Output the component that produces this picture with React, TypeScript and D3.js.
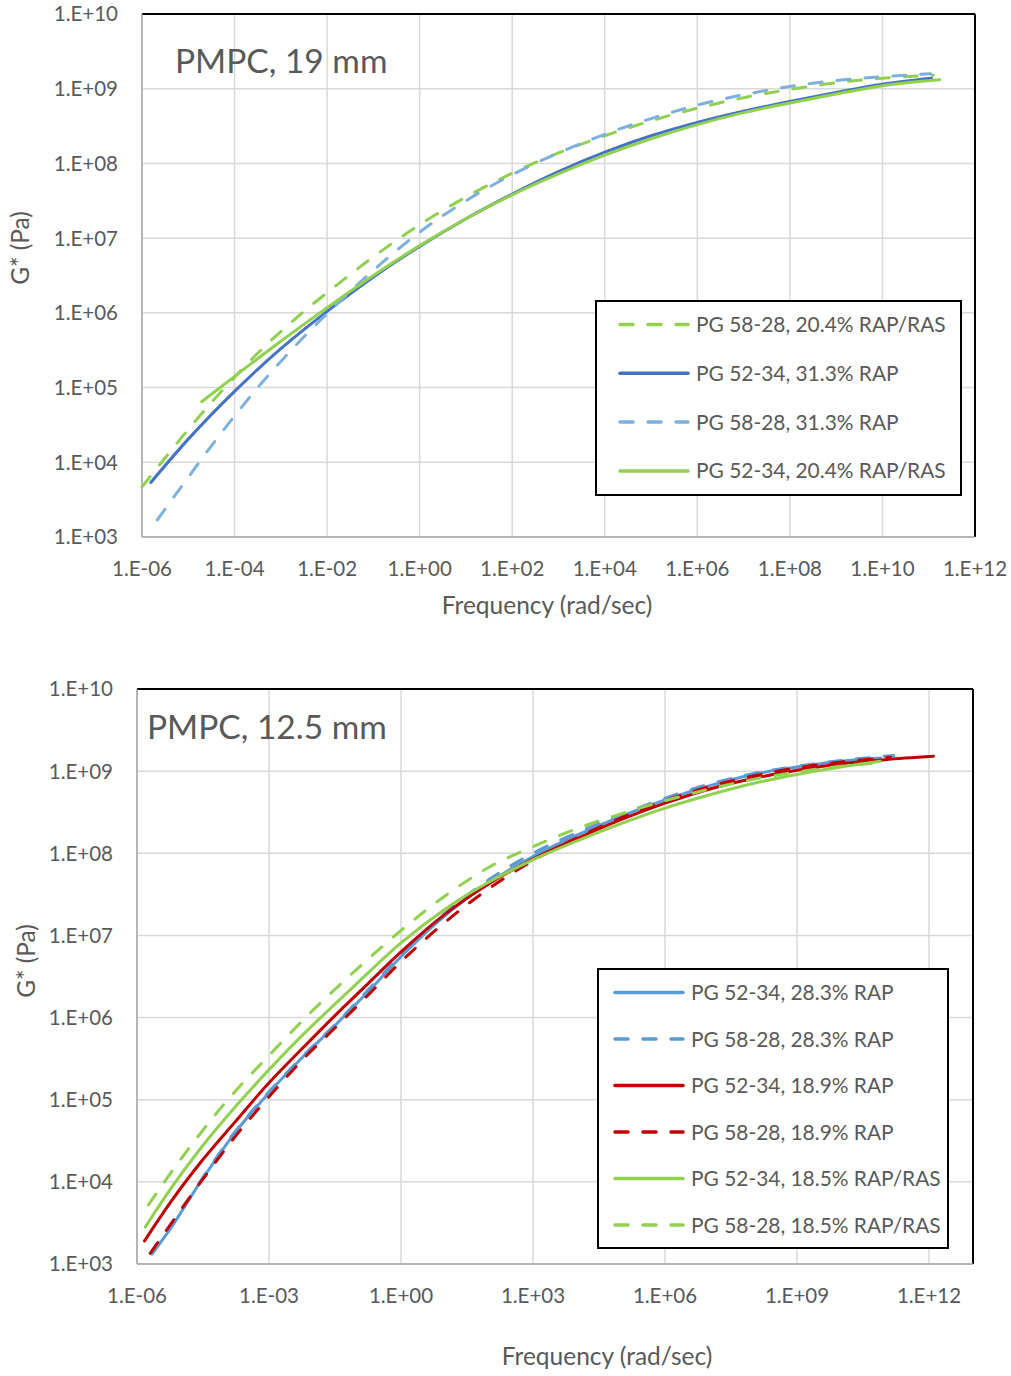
import React from 'react';
import * as d3 from 'd3';

type P = [number, number]; // [log10 frequency (rad/s), log10 G* (Pa)]

// ---------- Panel 1: PMPC, 19 mm ----------
const p1_5828_204: P[] = [
  [-6.0, 3.67], [-5.5, 4.06], [-5.0, 4.44], [-4.5, 4.8], [-4.0, 5.14], [-3.5, 5.46], [-3.0, 5.75],
  [-2.5, 6.02], [-2.0, 6.27], [-1.0, 6.75], [0.0, 7.18], [1.0, 7.55], [2.0, 7.87], [3.0, 8.14],
  [4.0, 8.37], [5.0, 8.57], [6.0, 8.74], [7.0, 8.88], [8.0, 8.99], [9.0, 9.08], [10.0, 9.14], [11.1, 9.18],
];
const p1_5234_313: P[] = [
  [-5.81, 3.73], [-5.0, 4.31], [-4.0, 4.95], [-3.0, 5.52], [-2.0, 6.02], [-1.0, 6.48], [0.0, 6.89],
  [1.0, 7.26], [2.0, 7.59], [3.0, 7.89], [4.0, 8.15], [5.0, 8.37], [6.0, 8.55], [7.0, 8.7],
  [8.0, 8.83], [9.0, 8.95], [10.0, 9.06], [11.06, 9.14],
];
const p1_5828_313: P[] = [
  [-5.67, 3.23], [-5.0, 3.8], [-4.5, 4.22], [-4.0, 4.62], [-3.5, 5.0], [-3.0, 5.35], [-2.5, 5.68],
  [-2.0, 5.99], [-1.0, 6.57], [0.0, 7.08], [1.0, 7.5], [2.0, 7.85], [3.0, 8.14], [4.0, 8.39],
  [5.0, 8.6], [6.0, 8.78], [7.0, 8.92], [8.0, 9.03], [9.0, 9.11], [10.0, 9.16], [11.04, 9.2],
];
const p1_5234_204: P[] = [
  [-4.71, 4.81], [-4.0, 5.15], [-3.0, 5.62], [-2.0, 6.07], [-1.0, 6.5], [0.0, 6.9], [1.0, 7.26],
  [2.0, 7.58], [3.0, 7.86], [4.0, 8.11], [5.0, 8.33], [6.0, 8.52], [7.0, 8.68], [8.0, 8.81],
  [9.0, 8.93], [10.0, 9.04], [11.24, 9.12],
];

// ---------- Panel 2: PMPC, 12.5 mm ----------
const p2_5234_283: P[] = [
  [-5.66, 3.12], [-5.28, 3.4], [-4.52, 4.03], [-3.77, 4.6], [-3.01, 5.08], [-2.25, 5.51],
  [-1.49, 5.91], [-0.74, 6.32], [0.0, 6.74], [1.0, 7.24], [2.0, 7.64], [3.0, 7.96], [4.0, 8.22],
  [5.0, 8.45], [6.0, 8.65], [7.0, 8.82], [8.0, 8.96], [9.0, 9.05], [10.0, 9.12], [10.9, 9.16],
];
const p2_5828_283: P[] = [
  [-5.66, 3.13], [-5.28, 3.41], [-4.52, 4.04], [-3.77, 4.61], [-3.01, 5.09], [-2.25, 5.52],
  [-1.49, 5.92], [-0.74, 6.34], [0.0, 6.76], [1.0, 7.27], [2.0, 7.68], [3.0, 8.0], [4.0, 8.25],
  [5.0, 8.47], [6.0, 8.67], [7.0, 8.84], [8.0, 8.97], [9.0, 9.06], [10.0, 9.13], [11.2, 9.19],
];
const p2_5234_189: P[] = [
  [-5.83, 3.28], [-5.28, 3.72], [-4.52, 4.26], [-3.77, 4.73], [-3.01, 5.2], [-2.25, 5.62],
  [-1.49, 6.03], [-0.89, 6.34], [0.0, 6.8], [1.0, 7.26], [2.0, 7.63], [3.0, 7.93], [4.0, 8.18],
  [5.0, 8.41], [6.0, 8.61], [7.0, 8.78], [8.0, 8.91], [9.0, 9.01], [10.0, 9.09], [11.0, 9.14], [12.1, 9.18],
];
const p2_5828_189: P[] = [
  [-5.7, 3.13], [-5.28, 3.45], [-4.52, 4.02], [-3.77, 4.55], [-3.01, 5.03], [-2.25, 5.48],
  [-1.49, 5.88], [-0.81, 6.24], [0.0, 6.68], [1.0, 7.16], [2.0, 7.57], [3.0, 7.91], [4.0, 8.19],
  [5.0, 8.43], [6.0, 8.64], [7.0, 8.81], [8.0, 8.94], [9.0, 9.04], [10.0, 9.11], [11.12, 9.17],
];
const p2_5234_185: P[] = [
  [-5.81, 3.45], [-5.28, 3.88], [-4.52, 4.43], [-3.77, 4.91], [-3.01, 5.36], [-2.25, 5.78],
  [-1.49, 6.17], [-1.15, 6.34], [0.0, 6.91], [1.0, 7.32], [2.0, 7.65], [3.0, 7.92], [4.0, 8.15],
  [5.0, 8.36], [6.0, 8.55], [7.0, 8.71], [8.0, 8.85], [9.0, 8.96], [10.0, 9.05], [10.89, 9.12],
];
const p2_5828_185: P[] = [
  [-5.74, 3.72], [-5.0, 4.28], [-4.0, 4.96], [-3.0, 5.54], [-2.0, 6.09], [-1.0, 6.59], [0.0, 7.06],
  [1.0, 7.48], [2.0, 7.83], [3.0, 8.08], [4.0, 8.3], [5.0, 8.48], [6.0, 8.64], [7.0, 8.78],
  [8.0, 8.9], [9.0, 8.99], [10.0, 9.06], [10.9, 9.1],
];

// ---------- ticks & labels ----------
const p1XTicks = [-6, -4, -2, 0, 2, 4, 6, 8, 10, 12];
const p2XTicks = [-6, -3, 0, 3, 6, 9, 12];
const yTicks = [3, 4, 5, 6, 7, 8, 9, 10];

const p1Labels = [
  'PG 58-28, 20.4% RAP/RAS',
  'PG 52-34, 31.3% RAP',
  'PG 58-28, 31.3% RAP',
  'PG 52-34, 20.4% RAP/RAS',
];
const p2Labels = [
  'PG 52-34, 28.3% RAP',
  'PG 58-28, 28.3% RAP',
  'PG 52-34, 18.9% RAP',
  'PG 58-28, 18.9% RAP',
  'PG 52-34, 18.5% RAP/RAS',
  'PG 58-28, 18.5% RAP/RAS',
];

const GREEN = '#92D050';
const DBLUE = '#4472C4';
const LBLUE = '#7DB0DF';
const BLUE = '#5B9BD5';
const RED = '#C00000';
const TXT = '#595959';
const GRID = '#D9D9D9';
const FONT = "Lato, 'Open Sans', sans-serif";
const DASH = '13 15';

const fmtExp = (e: number) => `1.E${e < 0 ? '-' : '+'}${String(Math.abs(e)).padStart(2, '0')}`;

type Series = { label: string; data: P[]; color: string; dashed: boolean };

type PanelCfg = {
  left: number; right: number; top: number; bottom: number;
  xMin: number; xMax: number; xTicks: number[];
  title: string; titleX: number; titleY: number;
  yLabelRight: number; xLabelY: number;
  xTitleX: number; xTitleY: number; yTitleX: number; yTitleY: number;
  legend: { x0: number; x1: number; y0: number; y1: number; firstY: number; step: number; lineX0: number; lineX1: number; textX: number };
  series: Series[];
};

const panels: PanelCfg[] = [
  {
    left: 142, right: 975, top: 14, bottom: 537,
    xMin: -6, xMax: 12, xTicks: p1XTicks,
    title: 'PMPC, 19 mm', titleX: 175, titleY: 73,
    yLabelRight: 118, xLabelY: 576,
    xTitleX: 547, xTitleY: 614, yTitleX: 29, yTitleY: 248,
    legend: { x0: 596, x1: 961, y0: 301, y1: 495, firstY: 324.5, step: 48.8, lineX0: 620, lineX1: 688, textX: 696 },
    series: [
      { label: p1Labels[0], data: p1_5828_204, color: GREEN, dashed: true },
      { label: p1Labels[1], data: p1_5234_313, color: DBLUE, dashed: false },
      { label: p1Labels[2], data: p1_5828_313, color: LBLUE, dashed: true },
      { label: p1Labels[3], data: p1_5234_204, color: GREEN, dashed: false },
    ],
  },
  {
    left: 137, right: 973, top: 689, bottom: 1264,
    xMin: -6, xMax: 13, xTicks: p2XTicks,
    title: 'PMPC, 12.5 mm', titleX: 147, titleY: 739,
    yLabelRight: 113, xLabelY: 1303,
    xTitleX: 607, xTitleY: 1365, yTitleX: 35, yTitleY: 961,
    legend: { x0: 598, x1: 948, y0: 969, y1: 1248, firstY: 992.5, step: 46.5, lineX0: 615, lineX1: 683, textX: 691 },
    series: [
      { label: p2Labels[0], data: p2_5234_283, color: BLUE, dashed: false },
      { label: p2Labels[1], data: p2_5828_283, color: BLUE, dashed: true },
      { label: p2Labels[2], data: p2_5234_189, color: RED, dashed: false },
      { label: p2Labels[3], data: p2_5828_189, color: RED, dashed: true },
      { label: p2Labels[4], data: p2_5234_185, color: GREEN, dashed: false },
      { label: p2Labels[5], data: p2_5828_185, color: GREEN, dashed: true },
    ],
  },
];

function Panel({ cfg }: { cfg: PanelCfg }) {
  const x = d3.scaleLog().domain([10 ** cfg.xMin, 10 ** cfg.xMax]).range([cfg.left, cfg.right]);
  const y = d3.scaleLog().domain([1e3, 1e10]).range([cfg.bottom, cfg.top]);
  const line = d3
    .line<P>()
    .x((d) => x(10 ** d[0]))
    .y((d) => y(10 ** d[1]))
    .curve(d3.curveMonotoneX);
  const L = cfg.legend;
  return (
    <g>
      <rect x={cfg.left} y={cfg.top} width={cfg.right - cfg.left} height={cfg.bottom - cfg.top} fill="#fff" />
      {yTicks.map((t) => (
        <line key={'gy' + t} x1={cfg.left} x2={cfg.right} y1={y(10 ** t)} y2={y(10 ** t)} stroke={GRID} strokeWidth={1.5} />
      ))}
      {cfg.xTicks.map((t) => (
        <line key={'gx' + t} x1={x(10 ** t)} x2={x(10 ** t)} y1={cfg.top} y2={cfg.bottom} stroke={GRID} strokeWidth={1.5} />
      ))}
      <line x1={cfg.left} x2={cfg.right} y1={cfg.top} y2={cfg.top} stroke="#000" strokeWidth={2} />
      <line x1={cfg.right} x2={cfg.right} y1={cfg.top} y2={cfg.bottom} stroke="#000" strokeWidth={2} />
      <line x1={cfg.left} x2={cfg.left} y1={cfg.top} y2={cfg.bottom} stroke="#A6A6A6" strokeWidth={1.5} />
      <line x1={cfg.left} x2={cfg.right} y1={cfg.bottom} y2={cfg.bottom} stroke="#A6A6A6" strokeWidth={1.5} />
      {cfg.series.map((s, i) => (
        <path
          key={'s' + i}
          d={line(s.data) || ''}
          fill="none"
          stroke={s.color}
          strokeWidth={3}
          strokeLinecap="round"
          strokeLinejoin="round"
          strokeDasharray={s.dashed ? DASH : undefined}
        />
      ))}
      {yTicks.map((t) => (
        <text key={'ty' + t} x={cfg.yLabelRight} y={y(10 ** t)} dy="0.36em" textAnchor="end" fontSize={20.5} fill={TXT}>
          {fmtExp(t)}
        </text>
      ))}
      {cfg.xTicks.map((t) => (
        <text key={'tx' + t} x={x(10 ** t)} y={cfg.xLabelY} textAnchor="middle" fontSize={20.5} fill={TXT}>
          {fmtExp(t)}
        </text>
      ))}
      <text x={cfg.titleX} y={cfg.titleY} fontSize={33.5} fill={TXT}>{cfg.title}</text>
      <text x={cfg.xTitleX} y={cfg.xTitleY} textAnchor="middle" fontSize={24.5} fill={TXT}>Frequency (rad/sec)</text>
      <text
        transform={`translate(${cfg.yTitleX},${cfg.yTitleY}) rotate(-90)`}
        textAnchor="middle"
        fontSize={24.5}
        fill={TXT}
      >
        G* (Pa)
      </text>
      <rect x={L.x0} y={L.y0} width={L.x1 - L.x0} height={L.y1 - L.y0} fill="#fff" stroke="#000" strokeWidth={2} />
      {cfg.series.map((s, i) => {
        const yy = L.firstY + i * L.step;
        return (
          <g key={'lg' + i}>
            <line
              x1={L.lineX0}
              x2={L.lineX1}
              y1={yy}
              y2={yy}
              stroke={s.color}
              strokeWidth={3.5}
              strokeLinecap="round"
              strokeDasharray={s.dashed ? DASH : undefined}
            />
            <text x={L.textX} y={yy} dy="0.36em" fontSize={20.9} fill={TXT}>
              {s.label}
            </text>
          </g>
        );
      })}
    </g>
  );
}

export default function App() {
  return (
    <svg
      width={1011}
      height={1376}
      viewBox="0 0 1011 1376"
      style={{ position: 'absolute', left: 0, top: 0, display: 'block', background: '#fff' }}
      fontFamily={FONT}
    >
      <rect x={0} y={0} width={1011} height={1376} fill="#fff" />
      {panels.map((p, i) => (
        <Panel key={i} cfg={p} />
      ))}
    </svg>
  );
}
